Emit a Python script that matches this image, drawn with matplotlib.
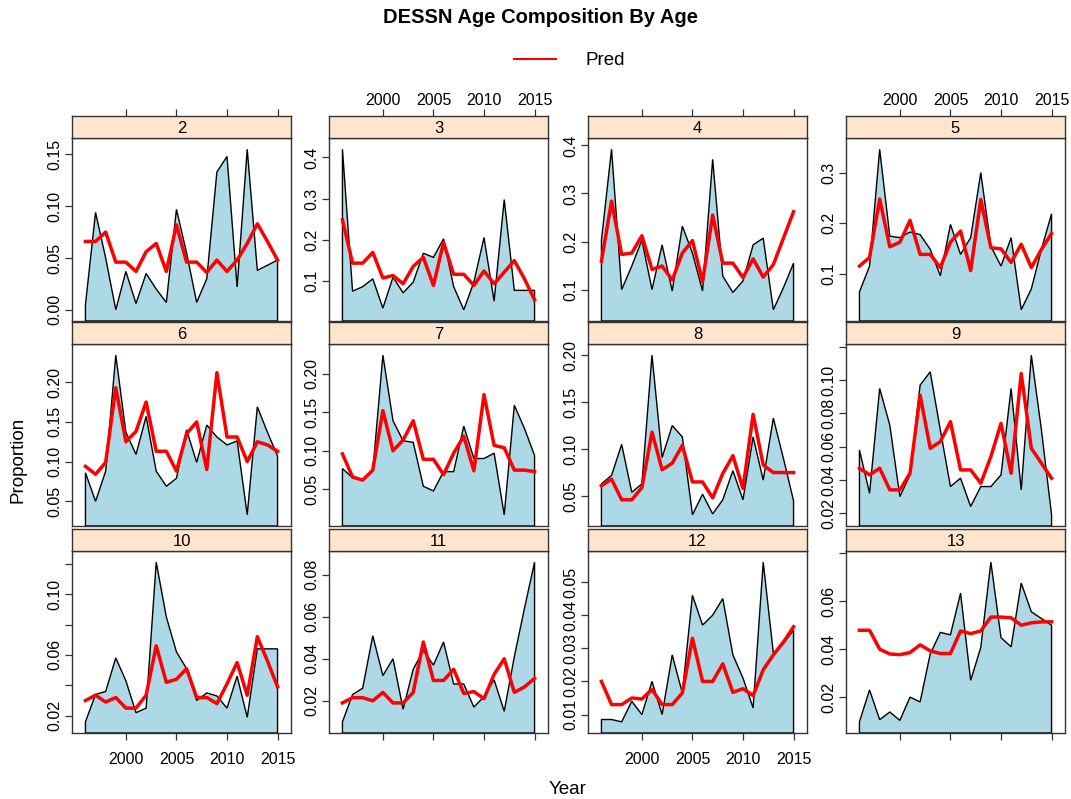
import matplotlib
matplotlib.use("Agg")
import matplotlib.pyplot as plt
from matplotlib.patches import Polygon
import numpy as np

plt.rcParams['font.family'] = ['Liberation Sans', 'DejaVu Sans']

years = np.arange(1996, 2016)
ages = [2, 3, 4, 5, 6, 7, 8, 9, 10, 11, 12, 13]

# observed proportions at age, 1996-2015
obs_2 = [0.005, 0.094, 0.050, 0.000, 0.037, 0.006, 0.035, 0.020, 0.007, 0.097,
         0.055, 0.007, 0.030, 0.133, 0.148, 0.022, 0.155, 0.038, 0.043, 0.048]
obs_3 = [0.420, 0.076, 0.087, 0.106, 0.035, 0.110, 0.072, 0.098, 0.168, 0.158,
         0.203, 0.087, 0.031, 0.098, 0.206, 0.052, 0.298, 0.078, 0.078, 0.078]
obs_4 = [0.203, 0.392, 0.100, 0.149, 0.203, 0.100, 0.193, 0.097, 0.232, 0.176,
         0.097, 0.371, 0.128, 0.094, 0.118, 0.193, 0.207, 0.058, 0.104, 0.155]
obs_5 = [0.065, 0.116, 0.346, 0.175, 0.172, 0.183, 0.178, 0.149, 0.097, 0.198,
         0.139, 0.172, 0.300, 0.155, 0.116, 0.172, 0.030, 0.071, 0.149, 0.219]
obs_6 = [0.086, 0.050, 0.088, 0.234, 0.137, 0.109, 0.157, 0.088, 0.069, 0.079,
         0.140, 0.099, 0.146, 0.131, 0.121, 0.126, 0.033, 0.169, 0.137, 0.107]
obs_7 = [0.077, 0.065, 0.063, 0.074, 0.224, 0.139, 0.113, 0.111, 0.054, 0.048,
         0.073, 0.073, 0.132, 0.090, 0.090, 0.097, 0.017, 0.159, 0.129, 0.094]
obs_8 = [0.063, 0.072, 0.105, 0.054, 0.063, 0.200, 0.091, 0.125, 0.113, 0.030,
         0.052, 0.031, 0.046, 0.077, 0.046, 0.113, 0.067, 0.133, 0.090, 0.045]
obs_9 = [0.058, 0.032, 0.095, 0.073, 0.030, 0.043, 0.097, 0.105, 0.070, 0.036,
         0.041, 0.024, 0.036, 0.036, 0.043, 0.095, 0.034, 0.115, 0.070, 0.019]
obs_10 = [0.016, 0.034, 0.036, 0.058, 0.043, 0.022, 0.025, 0.121, 0.085, 0.062,
          0.051, 0.030, 0.035, 0.033, 0.025, 0.046, 0.019, 0.064, 0.064, 0.064]
obs_11 = [0.010, 0.023, 0.026, 0.051, 0.032, 0.040, 0.016, 0.035, 0.044, 0.037,
          0.048, 0.028, 0.028, 0.017, 0.022, 0.030, 0.015, 0.041, 0.064, 0.086]
obs_12 = [0.0085, 0.0085, 0.0078, 0.014, 0.010, 0.020, 0.010, 0.028, 0.0165, 0.046,
          0.037, 0.040, 0.045, 0.028, 0.021, 0.012, 0.056, 0.0285, 0.0314, 0.0355]
obs_13 = [0.0097, 0.023, 0.0106, 0.0138, 0.0103, 0.020, 0.018, 0.038, 0.047, 0.046,
          0.0634, 0.027, 0.0407, 0.0763, 0.0448, 0.041, 0.0676, 0.0556, 0.0528, 0.050]

# model predictions
pred_2 = [0.066, 0.066, 0.075, 0.046, 0.046, 0.037, 0.056, 0.064, 0.037, 0.082,
          0.046, 0.046, 0.036, 0.048, 0.037, 0.048, 0.064, 0.083, 0.066, 0.048]
pred_3 = [0.249, 0.144, 0.144, 0.170, 0.108, 0.114, 0.094, 0.136, 0.158, 0.090,
          0.194, 0.117, 0.117, 0.090, 0.125, 0.094, 0.122, 0.150, 0.106, 0.055]
pred_4 = [0.159, 0.284, 0.173, 0.176, 0.212, 0.142, 0.149, 0.120, 0.176, 0.202,
          0.116, 0.255, 0.155, 0.155, 0.125, 0.164, 0.126, 0.152, 0.207, 0.262]
pred_5 = [0.116, 0.133, 0.248, 0.154, 0.163, 0.206, 0.139, 0.139, 0.113, 0.163,
          0.185, 0.107, 0.247, 0.152, 0.150, 0.123, 0.159, 0.113, 0.149, 0.180]
pred_6 = [0.094, 0.084, 0.099, 0.193, 0.125, 0.138, 0.175, 0.113, 0.113, 0.088,
          0.135, 0.150, 0.090, 0.212, 0.131, 0.131, 0.100, 0.125, 0.121, 0.113]
pred_7 = [0.096, 0.066, 0.062, 0.075, 0.152, 0.100, 0.114, 0.139, 0.089, 0.089,
          0.069, 0.097, 0.119, 0.074, 0.173, 0.107, 0.104, 0.075, 0.075, 0.073]
pred_8 = [0.061, 0.068, 0.046, 0.046, 0.059, 0.118, 0.078, 0.085, 0.104, 0.065,
          0.065, 0.048, 0.074, 0.093, 0.058, 0.137, 0.083, 0.075, 0.075, 0.075]
pred_9 = [0.047, 0.043, 0.047, 0.034, 0.034, 0.044, 0.091, 0.059, 0.063, 0.075,
          0.046, 0.046, 0.038, 0.054, 0.074, 0.044, 0.104, 0.059, 0.050, 0.041]
pred_10 = [0.030, 0.0335, 0.029, 0.032, 0.025, 0.025, 0.0335, 0.066, 0.042, 0.044,
           0.051, 0.032, 0.032, 0.028, 0.041, 0.055, 0.0335, 0.072, 0.056, 0.039]
pred_11 = [0.019, 0.0215, 0.0215, 0.020, 0.024, 0.019, 0.019, 0.024, 0.048, 0.0297,
           0.0297, 0.035, 0.0235, 0.0244, 0.021, 0.0326, 0.040, 0.024, 0.0266, 0.0307]
pred_12 = [0.020, 0.013, 0.013, 0.015, 0.0147, 0.0176, 0.013, 0.013, 0.0165, 0.033,
           0.020, 0.020, 0.0253, 0.0167, 0.0178, 0.0157, 0.0235, 0.028, 0.0319, 0.0365]
pred_13 = [0.0479, 0.0479, 0.040, 0.038, 0.0377, 0.0386, 0.0418, 0.0393, 0.0382, 0.0382,
           0.0476, 0.0465, 0.0476, 0.0534, 0.0534, 0.0531, 0.050, 0.051, 0.0514, 0.0514]

obs = [obs_2, obs_3, obs_4, obs_5, obs_6, obs_7, obs_8, obs_9, obs_10, obs_11, obs_12, obs_13]
pred = [pred_2, pred_3, pred_4, pred_5, pred_6, pred_7, pred_8, pred_9, pred_10, pred_11, pred_12, pred_13]

# y tick values per panel (pretty() style breaks)
yticks = [
    ([0.00, 0.05, 0.10, 0.15], "{:.2f}"),
    ([0.1, 0.2, 0.3, 0.4], "{:.1f}"),
    ([0.1, 0.2, 0.3, 0.4], "{:.1f}"),
    ([0.1, 0.2, 0.3], "{:.1f}"),
    ([0.05, 0.10, 0.15, 0.20], "{:.2f}"),
    ([0.05, 0.10, 0.15, 0.20], "{:.2f}"),
    ([0.05, 0.10, 0.15, 0.20], "{:.2f}"),
    ([0.02, 0.04, 0.06, 0.08, 0.10, 0.12], "{:.2f}"),
    ([0.02, 0.04, 0.06, 0.08, 0.10, 0.12], "{:.2f}"),
    ([0.02, 0.04, 0.06, 0.08], "{:.2f}"),
    ([0.01, 0.02, 0.03, 0.04, 0.05], "{:.2f}"),
    ([0.02, 0.04, 0.06, 0.08], "{:.2f}"),
]

W, H = 1071, 799
fig = plt.figure(figsize=(W / 100, H / 100), dpi=100)

col_left = [72, 329, 588, 846]
panel_w = 219
row_top = [138, 344, 551]
row_bot = [321, 526, 733]
strip_h = 22

fill_col = "#ADD8E6"
strip_col = "#FFE5CC"
frame_col = "#333333"
tick_fs = 11.5

span = years[-1] - years[0]
xlim = (years[0] - 0.07 * span, years[-1] + 0.07 * span)
xt = [2000, 2005, 2010, 2015]


def fpos(left, top, bottom):
    return [left / W, 1 - bottom / H, panel_w / W, (bottom - top) / H]


for k, age in enumerate(ages):
    r, c = divmod(k, 4)
    o = np.array(obs[k])
    p = np.array(pred[k])
    lo = min(o.min(), p.min())
    hi = max(o.max(), p.max())
    ylim = (lo - 0.07 * (hi - lo), hi + 0.07 * (hi - lo))

    ax = fig.add_axes(fpos(col_left[c], row_top[r], row_bot[r]))
    poly_x = np.concatenate([[years[0]], years, [years[-1]]])
    poly_y = np.concatenate([[ylim[0]], o, [ylim[0]]])
    ax.add_patch(Polygon(np.column_stack([poly_x, poly_y]), closed=True,
                         facecolor=fill_col, edgecolor="black", lw=1))
    ax.plot(years, p, color="red", lw=2.5, solid_joinstyle="round")
    ax.set_xlim(xlim)
    ax.set_ylim(ylim)

    ticks, fmt = yticks[k]
    # ticks sitting right on the top edge keep their mark but lose the label
    edge = ylim[1] - 0.03 * (ylim[1] - ylim[0])
    labels = [fmt.format(t) if t <= edge else "" for t in ticks]
    if age == 10:
        labels = [l if i % 2 == 0 else "" for i, l in enumerate(labels)]
    ax.set_yticks(ticks)
    ax.set_yticklabels(labels, rotation=90, va="center", fontsize=tick_fs)
    ax.tick_params(axis="y", direction="out", length=5, width=0.9, pad=2,
                   color=frame_col)

    ax.set_xticks(xt)
    if r == 2:
        ax.tick_params(axis="x", direction="out", length=5, width=0.9,
                       color=frame_col, labelsize=tick_fs, pad=9,
                       labelbottom=(c % 2 == 0))
    else:
        ax.tick_params(axis="x", bottom=False, labelbottom=False)
    for s in ax.spines.values():
        s.set_color(frame_col)
        s.set_linewidth(1)

    # strip with the age label
    sx = fig.add_axes([col_left[c] / W, 1 - row_top[r] / H, panel_w / W, strip_h / H])
    sx.set_facecolor(strip_col)
    sx.set_xlim(xlim)
    sx.set_yticks([])
    sx.text(0.5, 0.45, str(age), transform=sx.transAxes, ha="center", va="center",
            fontsize=12)
    if r == 0:
        sx.set_xticks(xt)
        sx.tick_params(axis="x", direction="out", length=5, width=0.9, color=frame_col,
                       bottom=False, labelbottom=False, top=True,
                       labeltop=(c % 2 == 1), labelsize=tick_fs, pad=1)
    else:
        sx.set_xticks([])
    for s in sx.spines.values():
        s.set_color(frame_col)
        s.set_linewidth(1)

fig.text(0.505, 0.978, "DESSN Age Composition By Age", ha="center", va="center",
         fontsize=14.5, fontweight="bold")
handle = plt.Line2D([], [], color="red", lw=1.5)
fig.legend([handle], ["Pred"], loc="center", bbox_to_anchor=(0.532, 0.924),
           frameon=False, fontsize=13.5, handlelength=2.2, handletextpad=1.6)
fig.text(0.017, 0.424, "Proportion", rotation=90, ha="center", va="center", fontsize=13.5)
fig.text(0.530, 0.0125, "Year", ha="center", va="center", fontsize=13.5)

fig.savefig("out.png", dpi=100)
